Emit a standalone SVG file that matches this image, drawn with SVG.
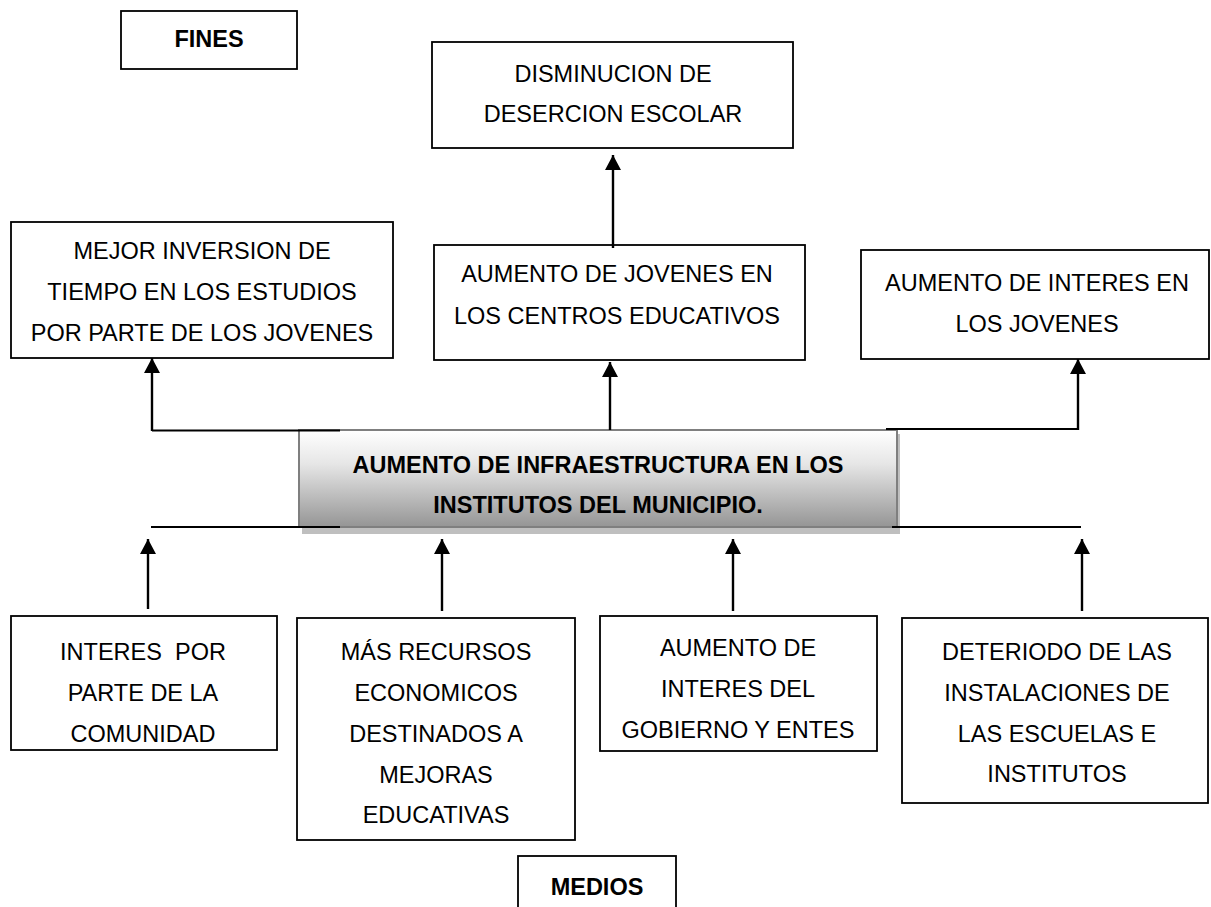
<svg xmlns="http://www.w3.org/2000/svg" width="1211" height="907" viewBox="0 0 1211 907">
<style>
.box{fill:#fff;stroke:#000;stroke-width:1.8}
.t{font-family:"Liberation Sans",Arial,sans-serif;font-size:23.5px;fill:#000;text-anchor:middle}
.b{font-weight:bold}
.c{fill:none;stroke:#000;stroke-width:2.4}
.h{fill:none;stroke:#000;stroke-width:1.8}
</style>
<defs>
<marker id="ah" markerUnits="userSpaceOnUse" markerWidth="18" markerHeight="18" viewBox="0 0 18 18" refX="16" refY="9" orient="auto">
<polygon points="1,1 16,9 1,17" fill="#000"/>
</marker>
<linearGradient id="g" x1="0" y1="0" x2="0" y2="1">
<stop offset="0" stop-color="#ffffff"/>
<stop offset="0.35" stop-color="#e6e6e6"/>
<stop offset="1" stop-color="#959595"/>
</linearGradient>
</defs>
<g id="fines">
<rect class="box" x="121" y="11" width="176" height="58"/>
<text class="t b" x="209" y="47">FINES</text>
</g>
<g id="disminucion">
<rect class="box" x="432" y="42" width="361" height="106"/>
<text class="t" x="613" y="82">DISMINUCION DE</text>
<text class="t" x="613" y="122">DESERCION ESCOLAR</text>
</g>
<g id="mejor">
<rect class="box" x="11" y="222" width="382" height="136"/>
<text class="t" x="202" y="259">MEJOR INVERSION DE</text>
<text class="t" x="202" y="300">TIEMPO EN LOS ESTUDIOS</text>
<text class="t" x="202" y="341">POR PARTE DE LOS JOVENES</text>
</g>
<g id="jovenes">
<rect class="box" x="434" y="245" width="371" height="115"/>
<text class="t" x="617" y="282">AUMENTO DE JOVENES EN</text>
<text class="t" x="617" y="324">LOS CENTROS EDUCATIVOS</text>
</g>
<g id="interes-jovenes">
<rect class="box" x="861" y="250" width="348" height="109"/>
<text class="t" x="1037" y="291">AUMENTO DE INTERES EN</text>
<text class="t" x="1037" y="332">LOS JOVENES</text>
</g>
<g id="central">
<rect x="302" y="434" width="598" height="100" fill="#bfbfbf"/>
<rect x="299" y="430" width="598" height="97" fill="url(#g)" stroke="#7f7f7f" stroke-width="2"/>
<text class="t b" x="598" y="473">AUMENTO DE INFRAESTRUCTURA EN LOS</text>
<text class="t b" x="598" y="513">INSTITUTOS DEL MUNICIPIO.</text>
</g>
<g id="comunidad">
<rect class="box" x="11" y="616" width="266" height="134"/>
<text class="t" x="143" y="660" xml:space="preserve">INTERES  POR</text>
<text class="t" x="143" y="701">PARTE DE LA</text>
<text class="t" x="143" y="742">COMUNIDAD</text>
</g>
<g id="recursos">
<rect class="box" x="297" y="618" width="278" height="222"/>
<text class="t" x="436" y="660">MÁS RECURSOS</text>
<text class="t" x="436" y="701">ECONOMICOS</text>
<text class="t" x="436" y="742">DESTINADOS A</text>
<text class="t" x="436" y="783">MEJORAS</text>
<text class="t" x="436" y="823">EDUCATIVAS</text>
</g>
<g id="gobierno">
<rect class="box" x="600" y="616" width="277" height="135"/>
<text class="t" x="738" y="656">AUMENTO DE</text>
<text class="t" x="738" y="697">INTERES DEL</text>
<text class="t" x="738" y="738">GOBIERNO Y ENTES</text>
</g>
<g id="deterioro">
<rect class="box" x="902" y="618" width="306" height="185"/>
<text class="t" x="1057" y="660">DETERIODO DE LAS</text>
<text class="t" x="1057" y="701">INSTALACIONES DE</text>
<text class="t" x="1057" y="742">LAS ESCUELAS E</text>
<text class="t" x="1057" y="782">INSTITUTOS</text>
</g>
<g id="medios">
<rect class="box" x="518" y="856" width="158" height="60"/>
<text class="t b" x="597" y="895">MEDIOS</text>
</g>
<g id="connectors">
<path class="c" d="M613,248 V155" marker-end="url(#ah)"/>
<path class="h" d="M340,430.5 H152"/>
<path class="c" d="M152,431 V358" marker-end="url(#ah)"/>
<path class="c" d="M610,430 V362" marker-end="url(#ah)"/>
<path class="h" d="M886,429 H1078"/>
<path class="c" d="M1078,430 V359" marker-end="url(#ah)"/>
<path class="h" d="M151,527 H340"/>
<path class="h" d="M892,527 H1081"/>
<path class="c" d="M148,609 V539" marker-end="url(#ah)"/>
<path class="c" d="M442,611 V539" marker-end="url(#ah)"/>
<path class="c" d="M733,611 V539" marker-end="url(#ah)"/>
<path class="c" d="M1082,611 V539" marker-end="url(#ah)"/>
</g>
</svg>
